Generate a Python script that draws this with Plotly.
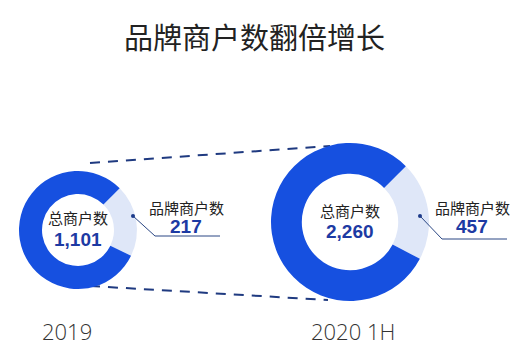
import plotly.graph_objects as go

# ---- data ----
periods = ["2019", "2020 1H"]
total_merchants = [1101, 2260]
brand_merchants = [217, 457]
center_label = "总商户数"
brand_label = "品牌商户数"
title_text = "品牌商户数翻倍增长"

W, H = 522, 355
def px(x):
    return x / W
def py(y):
    return 1 - y / H

DARK = "#1650e0"
LIGHT = "#dfe7f8"
NUM = "#1d3aa3"
CJK = "Noto Sans CJK SC"

# donut geometry (pixel centers/radii)
geo = [dict(cx=78, cy=230, r=59), dict(cx=350, cy=222, r=79)]

fig = go.Figure()
for i, g in enumerate(geo):
    fig.add_trace(go.Pie(
        values=[brand_merchants[i], total_merchants[i] - brand_merchants[i]],
        labels=[brand_label, "其他"],
        hole=0.61,
        sort=False,
        direction="clockwise",
        rotation=45,
        marker=dict(colors=[LIGHT, DARK], line=dict(width=0)),
        textinfo="none",
        hoverinfo="skip",
        showlegend=False,
        domain=dict(x=[px(g["cx"] - g["r"]), px(g["cx"] + g["r"])],
                    y=[py(g["cy"] + g["r"]), py(g["cy"] - g["r"])]),
    ))

annotations = []
shapes = []
# title
annotations.append(dict(text=title_text, x=px(254), y=py(36), xref="paper", yref="paper",
                        showarrow=False, xanchor="center", yanchor="middle",
                        font=dict(family=CJK, size=29, color="#222222")))

label_pos = [dict(lx=186, dot=(133, 216), knee=(155, 236), end=220),
             dict(lx=472, dot=(420, 216), knee=(442, 239), end=507)]
year_pos = [(67, 331), (353, 331)]

for i, g in enumerate(geo):
    # centre texts
    annotations.append(dict(text=center_label, x=px(g["cx"]), y=py(g["cy"] - 12), xref="paper", yref="paper",
                            showarrow=False, xanchor="center", yanchor="middle",
                            font=dict(family=CJK, size=15, color="#222222")))
    annotations.append(dict(text="<b>" + f"{total_merchants[i]:,}" + "</b>", x=px(g["cx"]), y=py(g["cy"] + 9),
                            xref="paper", yref="paper", showarrow=False, xanchor="center", yanchor="middle",
                            font=dict(family="Liberation Sans", size=19, color=NUM)))
    lp = label_pos[i]
    annotations.append(dict(text=brand_label, x=px(lp["lx"]), y=py(207), xref="paper", yref="paper",
                            showarrow=False, xanchor="center", yanchor="middle",
                            font=dict(family=CJK, size=15, color="#222222")))
    annotations.append(dict(text="<b>" + f"{brand_merchants[i]:,}" + "</b>", x=px(lp["lx"]), y=py(226),
                            xref="paper", yref="paper", showarrow=False, xanchor="center", yanchor="middle",
                            font=dict(family="Liberation Sans", size=19, color=NUM)))
    # leader line
    d, k = lp["dot"], lp["knee"]
    shapes.append(dict(type="path", xref="paper", yref="paper",
                       path=f"M {px(d[0])},{py(d[1])} L {px(k[0])},{py(k[1])} L {px(lp['end'])},{py(k[1])}",
                       line=dict(color="#2b4784", width=1)))
    shapes.append(dict(type="circle", xref="paper", yref="paper",
                       x0=px(d[0] - 2), x1=px(d[0] + 2), y0=py(d[1] + 2), y1=py(d[1] - 2),
                       fillcolor="#1d3a8a", line=dict(width=0)))
    # year label
    yx, yy = year_pos[i]
    annotations.append(dict(text=periods[i], x=px(yx), y=py(yy), xref="paper", yref="paper",
                            showarrow=False, xanchor="center", yanchor="middle",
                            font=dict(family="Open Sans", size=22, color="#333333", weight=300)))

# dashed connecting lines
for (x0, y0, x1, y1) in [(90, 163, 330, 146), (90, 286, 328, 300)]:
    shapes.append(dict(type="line", xref="paper", yref="paper",
                       x0=px(x0), y0=py(y0), x1=px(x1), y1=py(y1),
                       line=dict(color="#1f3a80", width=2, dash="10px,8px"), layer="below"))

fig.update_layout(width=W, height=H, margin=dict(l=0, r=0, t=0, b=0),
                  paper_bgcolor="white", plot_bgcolor="white",
                  annotations=annotations, shapes=shapes)
fig.write_html("out.html", config={"displayModeBar": False},
               post_script="document.body.style.margin='0';document.body.style.overflow='hidden';")
